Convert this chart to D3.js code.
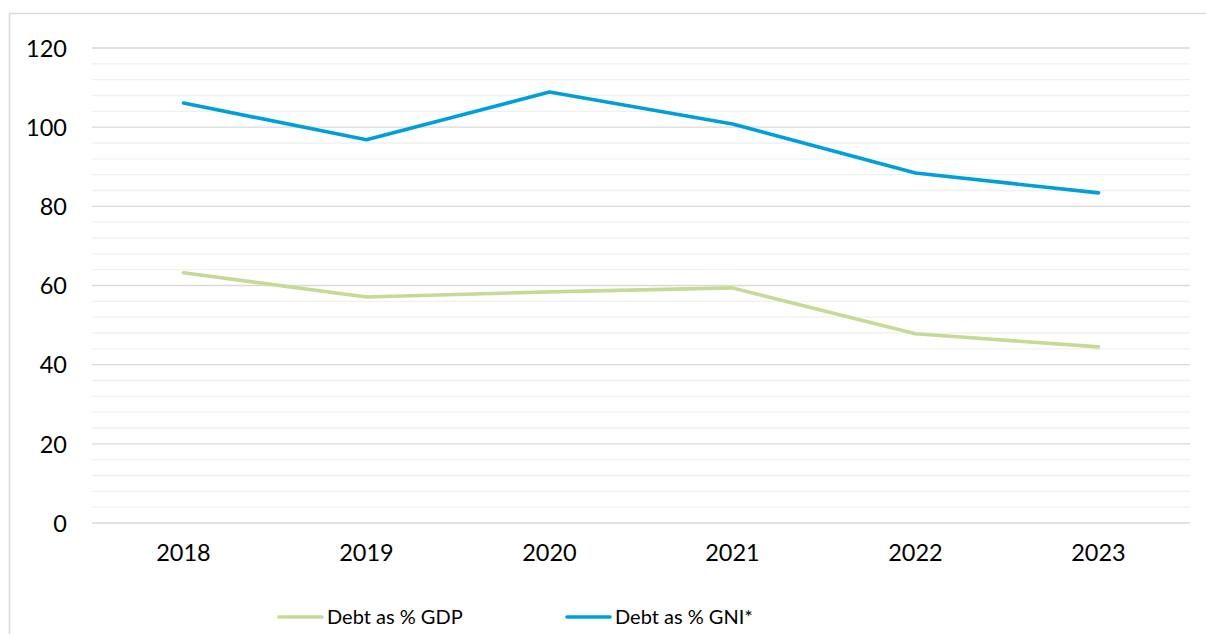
<!DOCTYPE html>
<html>
<head>
<meta charset="utf-8">
<script src="https://cdn.jsdelivr.net/npm/d3@7"></script>
<style>
html,body{margin:0;padding:0;background:#fff;}
svg{display:block;}
text{font-family:Lato, "Open Sans", sans-serif;fill:#000;}
</style>
</head>
<body>
<svg id="chart" width="1206" height="634"></svg>
<script>
const years = ["2018","2019","2020","2021","2022","2023"];
const debtGDP = [63.2, 57.1, 58.4, 59.4, 47.8, 44.5];
const debtGNI = [106.1, 96.8, 108.9, 100.8, 88.4, 83.4];
const yTicks = [0, 20, 40, 60, 80, 100, 120];
const yMinorTicks = d3.range(0, 121, 4);
const seriesNames = ["Debt as % GDP", "Debt as % GNI*"];
const seriesColors = ["#C5DA94", "#009FDB"];

(function () {
const svg = d3.select("#chart");
const plotLeft = 92, plotRight = 1190, plotTop = 48, plotBottom = 523;

// outer border
svg.append("rect").attr("x", 9.5).attr("y", 13.5).attr("width", 1205).attr("height", 640)
  .attr("fill", "none").attr("stroke", "#d9d9d9").attr("stroke-width", 1.5);

const x = d3.scaleBand().domain(years).range([plotLeft, plotRight]);
const y = d3.scaleLinear().domain([0, 120]).range([plotBottom, plotTop]);

// minor gridlines
svg.append("g").selectAll("line").data(yMinorTicks.filter(v => v % 20 !== 0)).join("line")
  .attr("x1", plotLeft).attr("x2", plotRight)
  .attr("y1", d => y(d)).attr("y2", d => y(d))
  .attr("stroke", "#f0f0f0").attr("stroke-width", 1.3);

// major gridlines
svg.append("g").selectAll("line").data(yTicks).join("line")
  .attr("x1", plotLeft).attr("x2", plotRight)
  .attr("y1", d => y(d)).attr("y2", d => y(d))
  .attr("stroke", "#d9d9d9").attr("stroke-width", 1.4);

// y axis labels
const yAxis = d3.axisLeft(y).tickValues(yTicks).tickSize(0).tickPadding(0);
const gy = svg.append("g").attr("transform", "translate(67,0)").call(yAxis);
gy.select(".domain").remove();
gy.selectAll("text").attr("font-size", 23.5).attr("font-family", "Lato, 'Open Sans', sans-serif").attr("fill", "#000").attr("dy", "0.35em");

// x axis labels
const xAxis = d3.axisBottom(x).tickSize(0).tickPadding(0);
const gx = svg.append("g").attr("transform", "translate(0,545)").call(xAxis);
gx.select(".domain").remove();
gx.selectAll("text").attr("font-size", 23.5).attr("font-family", "Lato, 'Open Sans', sans-serif").attr("fill", "#000").attr("dy", "0.7em");

// lines
const line = d3.line()
  .x((d, i) => x(years[i]) + x.bandwidth() / 2)
  .y(d => y(d));

[debtGDP, debtGNI].forEach((vals, k) => {
  svg.append("path").datum(vals)
    .attr("d", line)
    .attr("fill", "none")
    .attr("stroke", seriesColors[k])
    .attr("stroke-width", 3.6)
    .attr("stroke-linejoin", "round")
    .attr("stroke-linecap", "round");
});

// legend
const legendX = [279, 567];
seriesNames.forEach((name, k) => {
  const g = svg.append("g").attr("transform", `translate(${legendX[k]},617)`);
  g.append("line").attr("x1", 0).attr("x2", 43).attr("y1", 0).attr("y2", 0)
    .attr("stroke", seriesColors[k]).attr("stroke-width", 3.6).attr("stroke-linecap", "round");
  g.append("text").attr("x", 48).attr("y", 0).attr("dy", "0.36em")
    .attr("font-size", 20).text(name);
});
})();
</script>
</body>
</html>
